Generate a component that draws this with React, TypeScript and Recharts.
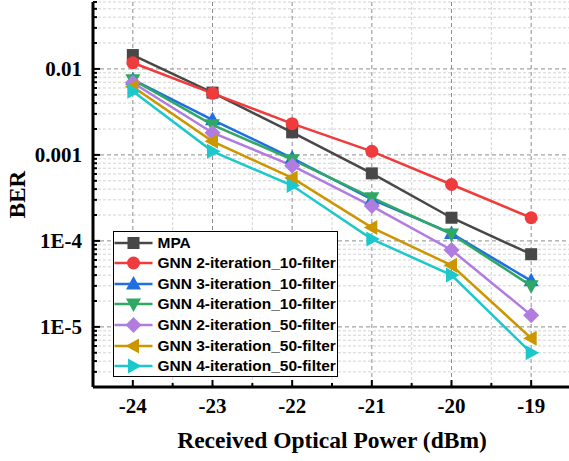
import React from 'react';
import { LineChart, Line, XAxis, YAxis, CartesianGrid, Legend } from 'recharts';

// Received optical power (dBm)
const power = [-24, -23, -22, -21, -20, -19];

// BER per scheme
const mpa = [0.0145, 0.0053, 0.00183, 0.00061, 0.000186, 0.00007];
const gnn2it10 = [0.0118, 0.0052, 0.00231, 0.0011, 0.000453, 0.000186];
const gnn3it10 = [0.0075, 0.00256, 0.00092, 0.000305, 0.000122, 0.0000343];
const gnn4it10 = [0.0075, 0.00224, 0.00088, 0.000318, 0.00012, 0.00003];
const gnn2it50 = [0.0069, 0.00181, 0.00075, 0.000254, 0.0000785, 0.0000137];
const gnn3it50 = [0.0062, 0.00144, 0.00054, 0.000143, 0.000052, 0.0000074];
const gnn4it50 = [0.0055, 0.0011, 0.00044, 0.000105, 0.00004, 0.000005];

const seriesNames = [
  'MPA',
  'GNN 2-iteration_10-filter',
  'GNN 3-iteration_10-filter',
  'GNN 4-iteration_10-filter',
  'GNN 2-iteration_50-filter',
  'GNN 3-iteration_50-filter',
  'GNN 4-iteration_50-filter',
];
const seriesValues = [mpa, gnn2it10, gnn3it10, gnn4it10, gnn2it50, gnn3it50, gnn4it50];
const seriesColors = ['#474747', '#EF3B3B', '#1F6FE0', '#2FA864', '#B07CE0', '#CC9600', '#1CC8CC'];
const seriesShapes = ['square', 'circle', 'up', 'down', 'diamond', 'left', 'right'];

// axis ticks
const xTicks = [-24, -23, -22, -21, -20, -19];
const xMinor = [-23.5, -22.5, -21.5, -20.5, -19.5];
const yMajor = [1e-5, 1e-4, 1e-3, 1e-2];
const yLabels = ['1E-5', '1E-4', '0.001', '0.01'];
const yMinor: number[] = [];
[1e-6, 1e-5, 1e-4, 1e-3, 1e-2].forEach((d) => {
  for (let k = 2; k <= 9; k++) {
    const v = k * d;
    if (v >= 2e-6 && v <= 0.06) yMinor.push(v);
  }
});

const data = power.map((p, i) => {
  const row: Record<string, number> = { power: p };
  seriesNames.forEach((n, s) => {
    row[n] = seriesValues[s][i];
  });
  return row;
});

const serif = '"Liberation Serif", "Times New Roman", serif';
const sans = '"Liberation Sans", Arial, sans-serif';

const Marker = ({ shape, cx, cy, color }: { shape: string; cx: number; cy: number; color: string }) => {
  switch (shape) {
    case 'square':
      return <rect x={cx - 6} y={cy - 6} width={12} height={12} fill={color} />;
    case 'circle':
      return <circle cx={cx} cy={cy} r={6.5} fill={color} />;
    case 'up':
      return <polygon points={`${cx},${cy - 8} ${cx + 7.5},${cy + 5.5} ${cx - 7.5},${cy + 5.5}`} fill={color} />;
    case 'down':
      return <polygon points={`${cx},${cy + 8} ${cx + 7.5},${cy - 5.5} ${cx - 7.5},${cy - 5.5}`} fill={color} />;
    case 'diamond':
      return <polygon points={`${cx},${cy - 8} ${cx + 8},${cy} ${cx},${cy + 8} ${cx - 8},${cy}`} fill={color} />;
    case 'left':
      return <polygon points={`${cx - 8},${cy} ${cx + 5.5},${cy - 7.5} ${cx + 5.5},${cy + 7.5}`} fill={color} />;
    default:
      return <polygon points={`${cx + 8},${cy} ${cx - 5.5},${cy - 7.5} ${cx - 5.5},${cy + 7.5}`} fill={color} />;
  }
};

const YTick = (props: any) => {
  const { x, y, payload } = props;
  const idx = yMajor.indexOf(payload.value);
  const major = idx >= 0;
  return (
    <g>
      <line x1={x} x2={x + (major ? 7 : 4)} y1={y} y2={y} stroke="#000" strokeWidth={2} />
      {major && (
        <text x={x - 11} y={y} textAnchor="end" dominantBaseline="central" fontFamily={serif} fontWeight="bold" fontSize={21} fill="#000">
          {yLabels[idx]}
        </text>
      )}
    </g>
  );
};

const XTick = (props: any) => {
  const { x, y, payload } = props;
  const major = xTicks.indexOf(payload.value) >= 0;
  return (
    <g>
      <line x1={x} x2={x} y1={y} y2={y - (major ? 7 : 4)} stroke="#000" strokeWidth={2} />
      {major && (
        <text x={x} y={y + 26} textAnchor="middle" fontFamily={serif} fontWeight="bold" fontSize={21} fill="#000">
          {payload.value}
        </text>
      )}
    </g>
  );
};

const LegendBox = () => (
  <div
    style={{
      width: 225,
      height: 146,
      border: '1.5px solid #000',
      background: '#fff',
      boxSizing: 'border-box',
      paddingTop: 0.5,
    }}
  >
    {seriesNames.map((name, i) => (
      <div key={name} style={{ display: 'flex', alignItems: 'center', height: 20.57 }}>
        <svg width={42} height={20} style={{ display: 'block' }}>
          <line x1={0.5} x2={38.5} y1={10} y2={10} stroke={seriesColors[i]} strokeWidth={2.5} />
          <Marker shape={seriesShapes[i]} cx={19.5} cy={10} color={seriesColors[i]} />
        </svg>
        <span style={{ fontFamily: sans, fontWeight: 'bold', fontSize: 15.5, marginLeft: 1.5, color: '#000', whiteSpace: 'nowrap' }}>
          {name}
        </span>
      </div>
    ))}
  </div>
);

const BerLabel = (props: any) => {
  const { viewBox } = props;
  const cx = viewBox.x + 17.5;
  const cy = viewBox.y + viewBox.height / 2;
  return (
    <text
      x={cx}
      y={cy}
      transform={`rotate(-90, ${cx}, ${cy})`}
      textAnchor="middle"
      dominantBaseline="central"
      fontFamily={serif}
      fontWeight="bold"
      fontSize={23}
      fill="#000"
    >
      BER
    </text>
  );
};

export default function App() {
  return (
    <div style={{ position: 'absolute', left: 0, top: 0, width: 569, height: 461, overflow: 'hidden', background: '#fff' }}>
      <LineChart width={575} height={461} data={data} margin={{ top: 2, right: 4, bottom: 0, left: 0 }}>
        <CartesianGrid horizontalValues={yMinor} verticalValues={xMinor} stroke="#d2d2d2" strokeDasharray="3 2" fill="none" />
        <CartesianGrid horizontalValues={yMajor} verticalValues={xTicks} stroke="#8c8c8c" strokeDasharray="4 3" fill="none" />
        <XAxis
          dataKey="power"
          type="number"
          domain={[-24.5, -18.5]}
          allowDataOverflow
          ticks={[...xTicks, ...xMinor]}
          interval={0}
          tickSize={0}
          tickMargin={0}
          tickLine={false}
          tick={<XTick />}
          height={74}
          axisLine={{ stroke: '#000', strokeWidth: 3 }}
          label={{
            value: 'Received Optical Power (dBm)',
            position: 'insideBottom',
            offset: 13,
            fill: '#000',
            fontSize: 23.5,
            fontWeight: 'bold',
            fontFamily: serif,
          }}
        />
        <XAxis
          xAxisId="top"
          orientation="top"
          type="number"
          domain={[-24.5, -18.5]}
          allowDataOverflow
          height={0}
          tick={false}
          tickLine={false}
          axisLine={{ stroke: '#000', strokeWidth: 3 }}
        />
        <YAxis
          type="number"
          scale="log"
          domain={[2e-6, 0.06]}
          allowDataOverflow
          ticks={[...yMinor, ...yMajor]}
          interval={0}
          tickSize={0}
          tickMargin={0}
          tickLine={false}
          tick={<YTick />}
          width={93}
          axisLine={{ stroke: '#000', strokeWidth: 3 }}
          label={{ content: <BerLabel /> }}
        />
        <Legend
          layout="vertical"
          align="center"
          verticalAlign="middle"
          content={<LegendBox />}
          wrapperStyle={{ position: 'absolute', left: 113, top: 231, width: 225, height: 146 }}
        />
        {seriesNames.map((name, i) => (
          <Line
            key={name}
            type="linear"
            dataKey={name}
            stroke={seriesColors[i]}
            strokeWidth={2.5}
            isAnimationActive={false}
            dot={(p: any) => <Marker key={`${name}-${p.index}`} shape={seriesShapes[i]} cx={p.cx} cy={p.cy} color={seriesColors[i]} />}
            activeDot={false}
          />
        ))}
      </LineChart>
    </div>
  );
}
